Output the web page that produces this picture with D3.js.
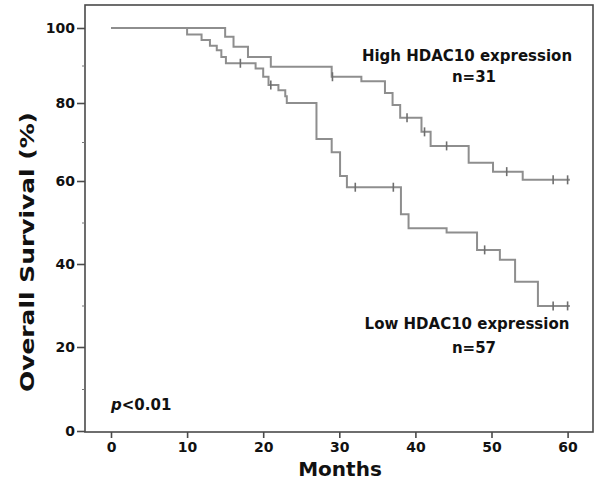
<!DOCTYPE html>
<html>
<head>
<meta charset="utf-8">
<script src="https://cdn.jsdelivr.net/npm/d3@7"></script>
<style>
  html, body { margin: 0; padding: 0; background: #fff; }
  svg { display: block; }
  text { font-family: "DejaVu Sans", Verdana, sans-serif; font-weight: bold; fill: #111; }
</style>
</head>
<body>
<svg id="chart" width="600" height="489"></svg>
<script>
// ---- data ----
const xTicks = [0, 10, 20, 30, 40, 50, 60];
const yTicks = [0, 20, 40, 60, 80, 100];
const yMinorTicks = [10, 30, 50, 70, 90];

const highTimes = [0, 15.0, 16.1, 18.0, 21.0, 29.0, 32.9, 36.0, 37.0, 38.0, 40.8, 42.0, 47.0, 50.2, 54.1];
const highSurv  = [100, 97.7, 95.0, 92.3, 89.7, 87.0, 85.8, 82.7, 79.5, 76.2, 72.6, 69.0, 64.7, 62.4, 60.3];
const highCensor = [29.1, 38.9, 41.2, 44.1, 52.0, 58.1, 60.0];

const lowTimes = [0, 10.0, 11.9, 13.0, 13.9, 14.5, 15.1, 19.0, 20.0, 20.7, 22.0, 22.9, 23.1, 27.0, 29.0, 30.1, 31.0, 38.1, 39.1, 44.1, 48.1, 51.1, 53.1, 56.1];
const lowSurv  = [100, 98.3, 96.8, 95.3, 94.1, 92.3, 90.6, 89.2, 87.0, 84.8, 83.4, 81.8, 80.0, 70.8, 67.4, 61.3, 58.5, 52.0, 48.6, 47.6, 43.4, 41.0, 35.7, 29.9];
const lowCensor = [17.0, 21.0, 32.1, 37.1, 49.1, 58.1, 60.0];

const endTime = 60.3;

// ---- drawing ----
const svg = d3.select("#chart");
const x = d3.scaleLinear().domain([0, 60]).range([111, 567.6]);
const y = d3.scaleLinear().domain([0, 20, 40, 60, 80, 100]).range([431, 347, 264, 181, 103, 28]);

const frame = { left: 85, right: 593, top: 5, bottom: 432 };
const axisColor = "#4a4a4a";
const curveColor = "#8e8e8e";

// frame
svg.append("rect")
  .attr("x", frame.left).attr("y", frame.top)
  .attr("width", frame.right - frame.left).attr("height", frame.bottom - frame.top)
  .attr("fill", "none").attr("stroke", axisColor).attr("stroke-width", 1.6);

// y axis
const yAxis = d3.axisLeft(y).tickValues(yTicks).tickSize(8).tickPadding(2).tickFormat(d3.format("d"));
const gy = svg.append("g").attr("transform", `translate(${frame.left},0)`).call(yAxis);
gy.select(".domain").remove();
gy.selectAll(".tick line").attr("stroke", axisColor).attr("stroke-width", 1.6);
gy.selectAll(".tick text").style("font-size", "14px").style("font-family", "DejaVu Sans, sans-serif").style("font-weight", "bold").attr("fill", "#111");

const gym = svg.append("g").attr("transform", `translate(${frame.left},0)`)
  .call(d3.axisLeft(y).tickValues(yMinorTicks).tickSize(3).tickFormat(""));
gym.select(".domain").remove();
gym.selectAll(".tick line").attr("stroke", "#777").attr("stroke-width", 1);

// x axis
const xAxis = d3.axisBottom(x).tickValues(xTicks).tickSize(6).tickPadding(4).tickFormat(d3.format("d"));
const gx = svg.append("g").attr("transform", `translate(0,${frame.bottom})`).call(xAxis);
gx.select(".domain").remove();
gx.selectAll(".tick line").attr("stroke", axisColor).attr("stroke-width", 1.6);
gx.selectAll(".tick text").style("font-size", "14px").style("font-family", "DejaVu Sans, sans-serif").style("font-weight", "bold").attr("fill", "#111");

// curves
const line = d3.line().x(d => x(d[0])).y(d => y(d[1])).curve(d3.curveStepAfter);
function drawCurve(times, surv, censor) {
  const pts = times.map((t, i) => [t, surv[i]]);
  pts.push([endTime, surv[surv.length - 1]]);
  svg.append("path").datum(pts).attr("d", line)
    .attr("fill", "none").attr("stroke", curveColor).attr("stroke-width", 2);
  const survAt = t => { let v = surv[0]; times.forEach((tt, i) => { if (tt <= t) v = surv[i]; }); return v; };
  svg.append("g").selectAll("line").data(censor).join("line")
    .attr("x1", d => x(d)).attr("x2", d => x(d))
    .attr("y1", d => y(survAt(d)) - 4.5).attr("y2", d => y(survAt(d)) + 4.5)
    .attr("stroke", "#6e6e6e").attr("stroke-width", 1.6);
}
drawCurve(highTimes, highSurv, highCensor);
drawCurve(lowTimes, lowSurv, lowCensor);

// annotations
svg.append("text").attr("x", 467).attr("y", 61).attr("text-anchor", "middle").style("font-size", "15px").text("High HDAC10 expression");
svg.append("text").attr("x", 474).attr("y", 82).attr("text-anchor", "middle").style("font-size", "15px").text("n=31");
svg.append("text").attr("x", 467).attr("y", 329).attr("text-anchor", "middle").style("font-size", "15px").text("Low HDAC10 expression");
svg.append("text").attr("x", 474).attr("y", 353).attr("text-anchor", "middle").style("font-size", "15px").text("n=57");

const pt = svg.append("text").attr("x", 111).attr("y", 410).style("font-size", "15px");
pt.append("tspan").style("font-style", "italic").text("p");
pt.append("tspan").text("<0.01");

// axis titles
svg.append("text").attr("x", 340).attr("y", 476).attr("text-anchor", "middle").style("font-size", "20px").text("Months");
svg.append("text").attr("transform", "translate(34,252) rotate(-90)").attr("text-anchor", "middle")
  .style("font-size", "20px").attr("textLength", 280).attr("lengthAdjust", "spacingAndGlyphs")
  .text("Overall Survival (%)");
</script>
</body>
</html>
